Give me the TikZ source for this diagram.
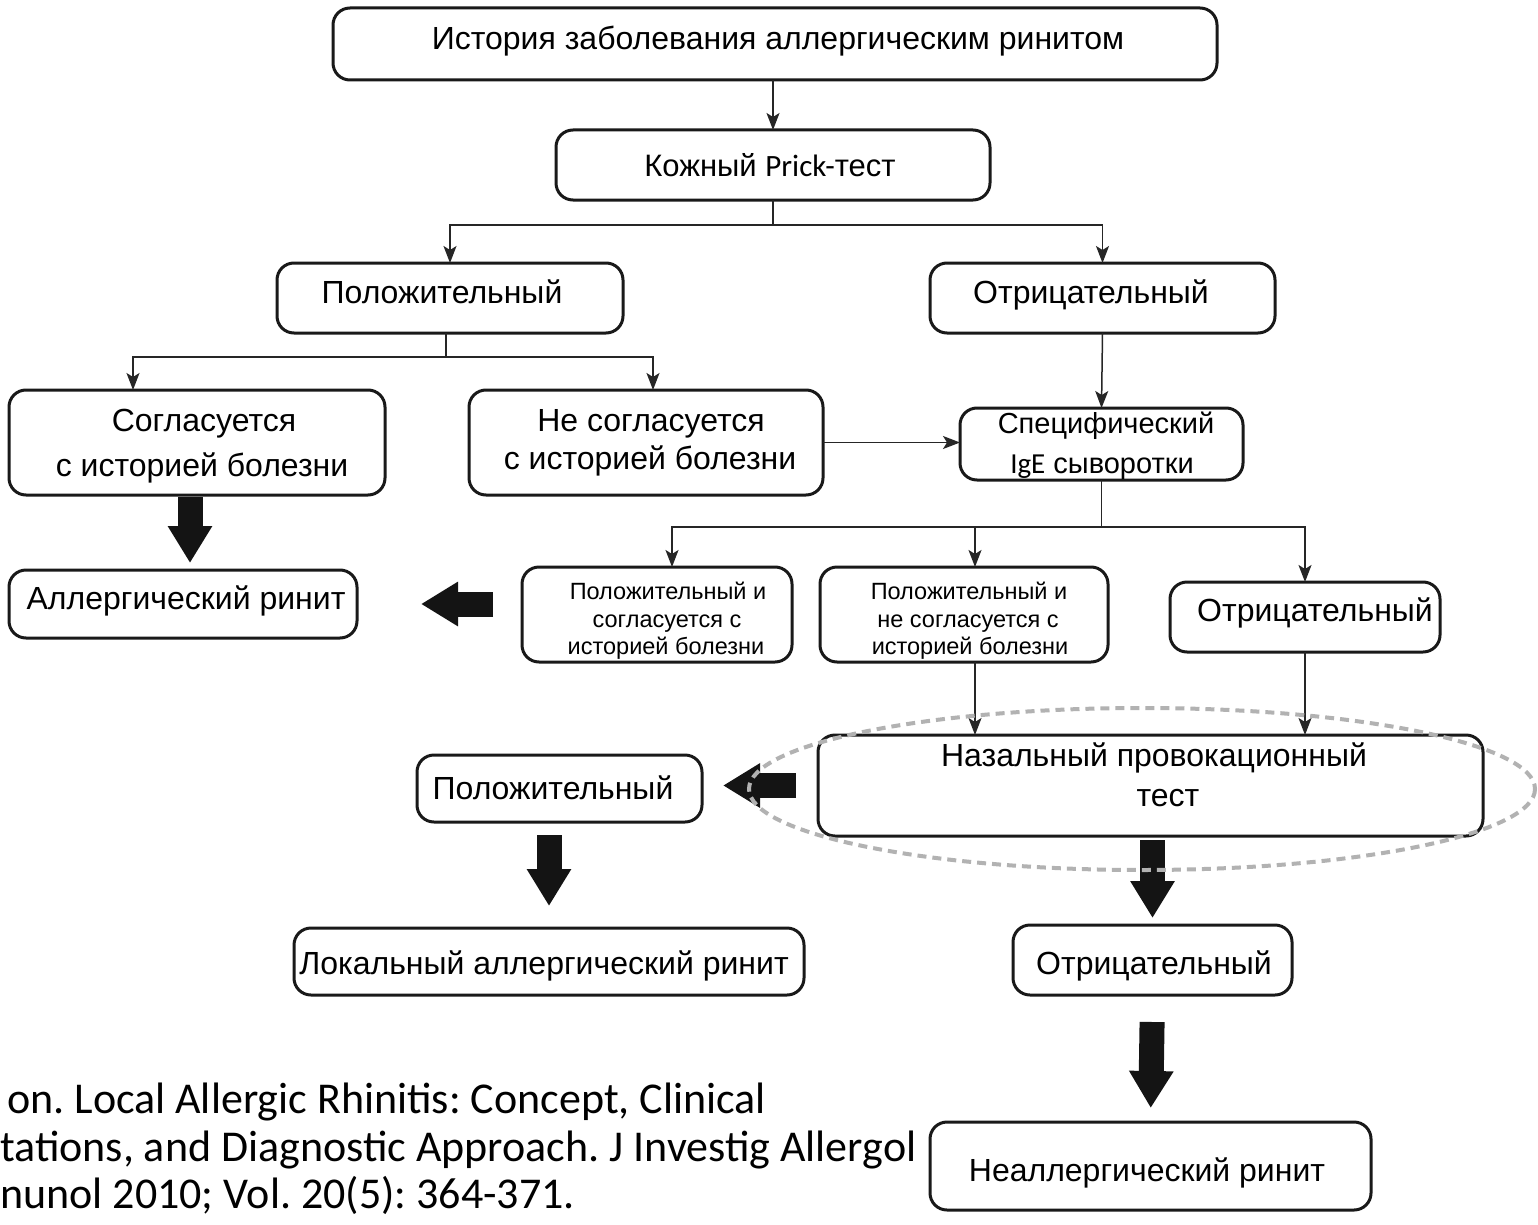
\documentclass[tikz,border=0pt]{standalone}
\usepackage{fontspec}
\setmainfont{Liberation Sans}
\newfontfamily\calib{Carlito}
\usetikzlibrary{arrows.meta}
\frenchspacing

\newcommand\mkbox[5]{%
  \node[box, minimum width={(#4-#2)*1pt}, minimum height={(#5-#3)*1pt}]
    (#1) at ({(#2+#4)/2},{(#3+#5)/2}) {};}
\newcommand\fs[1]{\fontsize{#1}{#1}\selectfont}

\tikzset{
  box/.style={draw=black!90, line width=3pt, rounded corners=17pt,
              inner sep=0pt, outer sep=0pt, fill=white},
  % label placed by the middle of its capital height
  lbl/.style={inner sep=0pt, anchor=base, font=\fs{#1},
              yshift={-0.36*#1*1pt}},
  lbl/.default=32,
  con/.style={line width=1.5pt, draw=black!85,
              -{Stealth[length=17pt,width=13pt,inset=4pt]}},
  lnk/.style={line width=1.5pt, draw=black!85},
  blk/.style={line width=25pt, draw=black!92,
              -{Triangle[length=37pt,width=42pt]}},
  halo/.style={draw=black!30, line width=4pt, dash pattern=on 9pt off 6pt},
  cite/.style={anchor=base west, inner sep=0pt, font=\calib\fs{44}},
}

\begin{document}
\begin{tikzpicture}[x=1pt,y=-1pt]
\fill[white] (0,0) rectangle (1538,1225);
\useasboundingbox (0,0) rectangle (1538,1225);

% boxes
\mkbox{b1}{333}{8}{1217}{80}
\mkbox{b2}{556}{130}{990}{200}
\mkbox{b3}{277}{263}{623}{333}
\mkbox{b4}{930}{263}{1275}{333}
\mkbox{b5}{9}{390}{385}{495}
\mkbox{b6}{469}{390}{823}{495}
\mkbox{b7}{960}{408}{1243}{480}
\mkbox{b8}{522}{567}{792}{662}
\mkbox{b9}{820}{567}{1108}{662}
\mkbox{b10}{1170}{582}{1440}{652}
\mkbox{b11}{9}{570}{357}{638}
\mkbox{b12}{818}{735}{1483}{836}
\mkbox{b13}{417}{755}{702}{822}
\mkbox{b14}{294}{928}{804}{995}
\mkbox{b15}{1013}{925}{1292}{995}
\mkbox{b16}{930}{1122}{1371}{1210}

% labels
\node[lbl] (t1) at (778,38) {История заболевания аллергическим ринитом};
\node[lbl=31] (t2) at (770,165) {Кожный {\calib Prick-}тест};
\node[lbl] (t3) at (442,292) {Положительный};
\node[lbl] (t4) at (1091,292) {Отрицательный};
\node[lbl] (t5a) at (204,420) {Согласуется};
\node[lbl] (t5b) at (202,465) {с историей болезни};
\node[lbl] (t6a) at (651,420) {Не согласуется};
\node[lbl] (t6b) at (650,458) {с историей болезни};
\node[lbl=29] (t7a) at (1106,423) {Специфический};
\node[lbl=29] (t7b) at (1102,463) {{\calib IgE} сыворотки};
\node[lbl=23.5] (t8a) at (668,591) {Положительный и};
\node[lbl=23.5] (t8b) at (667,619) {согласуется с};
\node[lbl=23.5] (t8c) at (666,646) {историей болезни};
\node[lbl=23.5] (t9a) at (969,591) {Положительный и};
\node[lbl=23.5] (t9b) at (968,619) {не согласуется с};
\node[lbl=23.5] (t9c) at (970,646) {историей болезни};
\node[lbl] (t10) at (1315,610) {Отрицательный};
\node[lbl] (t11) at (186,598) {Аллергический ринит};
\node[lbl] (t12a) at (1154,755) {Назальный провокационный};
\node[lbl] (t12b) at (1168,795) {тест};
\node[lbl] (t13) at (553,788) {Положительный};
\node[lbl] (t14) at (544,963) {Локальный аллергический ринит};
\node[lbl] (t15) at (1154,963) {Отрицательный};
\node[lbl] (t16) at (1147,1170) {Неаллергический ринит};

% thin connectors
\draw[con] (b1.south -| b2.north) -- (b2.north);
\draw[lnk] (b2.south) -- ++(0,25) coordinate (j1);
\draw[con] (j1) -| (b3.north);
\draw[con] (j1) -| (b4.north);
\draw[lnk] ([xshift=-4pt]b3.south) -- ++(0,24) coordinate (j2);
\draw[con] (j2) -| ([xshift=124pt]b5.north west);
\draw[con] (j2) -| ([xshift=-170pt]b6.north east);
\draw[con] (b4.south) -- (b7.north);
\draw[con] (b6.east) -- (b6.east -| b7.west);
\draw[lnk] (b7.south) -- ++(0,47) coordinate (j3);
\draw[con] (j3) -| ([xshift=150pt]b8.north west);
\draw[con] (j3) -| ([xshift=155pt]b9.north west);
\draw[con] (j3) -| (b10.north);
\draw[con] ([xshift=155pt]b9.south west) -- ([xshift=155pt]b9.south west |- b12.north);
\draw[con] (b10.south) -- (b10.south |- b12.north);

% block arrows
\draw[blk, shorten <=2pt, shorten >=7pt]
  ([xshift=-7pt]b5.south) -- ([xshift=-7pt]b5.south |- b11.north);
\draw[blk, shorten <=29pt, shorten >=64pt] (b8.west |- b11.east) -- (b11.east);
\draw[blk, shorten <=22pt, shorten >=21pt] (b12.west) -- (b12.west -| b13.east);
\draw[blk, shorten <=13pt, shorten >=22pt] (b14.north |- b13.south) -- (b14.north);
\draw[blk, shorten <=4pt, shorten >=7pt] (b15.north |- b12.south) -- (b15.north);
\draw[blk, shorten <=27pt, shorten >=14pt] (b15.south) -- (b16.north);

% dashed outline around the nasal provocation test
\draw[halo] (1142,789) ellipse [x radius=393, y radius=81];

% reference
\node[cite] (c1) at (7,1113) {on. Local Allergic Rhinitis: Concept, Clinical};
\node[cite] (c2) at (0,1161) {tations, and Diagnostic Approach. J Investig Allergol};
\node[cite] (c3) at (0,1208) {nunol 2010; Vol. 20(5): 364-371.};
\end{tikzpicture}
\end{document}
